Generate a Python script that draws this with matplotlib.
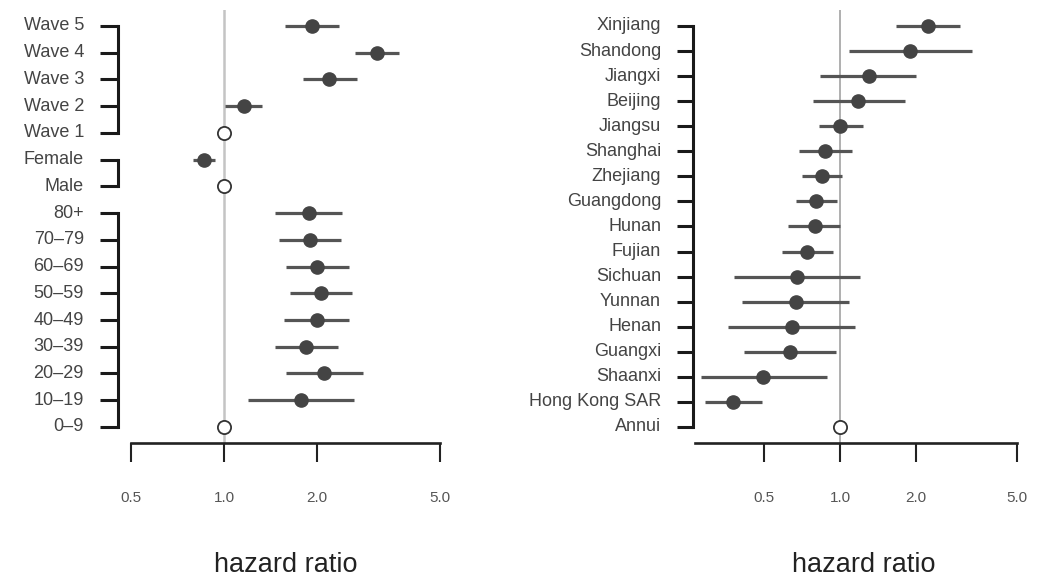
import numpy as np
import matplotlib
matplotlib.use("Agg")
import matplotlib.pyplot as plt
import matplotlib.transforms as mtransforms

plt.rcParams['font.family'] = ['Liberation Sans', 'DejaVu Sans']

# ---------------- data ----------------
left_labels = ["Wave 5", "Wave 4", "Wave 3", "Wave 2", "Wave 1",
               "Female", "Male",
               "80+", "70\u201379", "60\u201369", "50\u201359", "40\u201349",
               "30\u201339", "20\u201329", "10\u201319", "0\u20139"]
left_est = [1.92, 3.12, 2.19, 1.16, 1.0, 0.862, 1.0,
            1.88, 1.90, 2.00, 2.06, 2.00, 1.84, 2.11, 1.78, 1.0]
left_low = [1.58, 2.65, 1.80, 1.01, np.nan, 0.796, np.nan,
            1.46, 1.51, 1.59, 1.64, 1.56, 1.46, 1.59, 1.20, np.nan]
left_high = [2.36, 3.68, 2.69, 1.33, np.nan, 0.935, np.nan,
             2.41, 2.39, 2.53, 2.59, 2.54, 2.33, 2.81, 2.63, np.nan]
left_ref = [False, False, False, False, True, False, True,
            False, False, False, False, False, False, False, False, True]
left_groups = [(0, 4), (5, 6), (7, 15)]

right_labels = ["Xinjiang", "Shandong", "Jiangxi", "Beijing", "Jiangsu",
                "Shanghai", "Zhejiang", "Guangdong", "Hunan", "Fujian",
                "Sichuan", "Yunnan", "Henan", "Guangxi", "Shaanxi",
                "Hong Kong SAR", "Annui"]
right_est = [2.23, 1.89, 1.30, 1.18, 1.00, 0.875, 0.845, 0.806, 0.793,
             0.739, 0.676, 0.668, 0.647, 0.635, 0.497, 0.377, 1.0]
right_low = [1.66, 1.08, 0.832, 0.783, 0.827, 0.690, 0.705, 0.668, 0.621,
             0.588, 0.382, 0.408, 0.362, 0.418, 0.281, 0.292, np.nan]
right_high = [2.99, 3.31, 2.00, 1.80, 1.23, 1.11, 1.02, 0.969, 1.00,
              0.933, 1.20, 1.08, 1.15, 0.963, 0.886, 0.489, np.nan]
right_ref = [False] * 16 + [True]
right_groups = [(0, 16)]

xticks = [0.5, 1.0, 2.0, 5.0]
xticklabels = ["0.5", "1.0", "2.0", "5.0"]

# ---------------- figure ----------------
W, H = 1048, 577
fig = plt.figure(figsize=(W / 100, H / 100), dpi=100)


def px_ax(x0, x1, ytop, ybot):
    return fig.add_axes([x0 / W, 1 - ybot / H, (x1 - x0) / W, (ybot - ytop) / H])


def panel(ax, labels, est, low, high, ref, groups, xlim, ylim,
          vline_color, vline_lw, spine_x, tick_x0, label_x, xlabel_x):
    n = len(labels)
    y = np.arange(n)
    ax.set_xscale('log')
    ax.set_xlim(*xlim)
    ax.set_ylim(*ylim)
    for s in ['top', 'right', 'left']:
        ax.spines[s].set_visible(False)
    ax.spines['bottom'].set_linewidth(1.9)
    ax.spines['bottom'].set_color('#222222')
    ax.set_yticks([])
    ax.minorticks_off()
    ax.set_xticks(xticks)
    ax.set_xticklabels(xticklabels)
    ax.tick_params(axis='x', which='major', direction='out', length=13.5,
                   width=1.5, color='#222222', pad=21, labelsize=11,
                   labelcolor='#555555')
    ax.tick_params(axis='x', which='minor', length=0)

    ax.axvline(1.0, color=vline_color, lw=vline_lw, zorder=1)

    est = np.array(est)
    low = np.array(low)
    high = np.array(high)
    ref = np.array(ref)
    m = ~np.isnan(low)
    ax.hlines(y[m], low[m], high[m], color='#555555', lw=2.3, zorder=2)
    ax.plot(est[~ref], y[~ref], 'o', ms=9.5, mfc='#444444', mec='#444444',
            zorder=3, clip_on=False)
    ax.plot(est[ref], y[ref], 'o', ms=9.5, mfc='white', mec='#333333',
            mew=1.3, zorder=3, clip_on=False)

    trans = mtransforms.blended_transform_factory(ax.transAxes, ax.transData)
    for g0, g1 in groups:
        ax.plot([spine_x, spine_x], [g0, g1], color='#1a1a1a', lw=2.2,
                transform=trans, clip_on=False, solid_capstyle='projecting')
        for yi in range(g0, g1 + 1):
            ax.plot([tick_x0, spine_x], [yi, yi], color='#1a1a1a', lw=2.2,
                    transform=trans, clip_on=False, solid_capstyle='butt')
    for yi, lab in zip(y, labels):
        ax.text(label_x, yi, lab, transform=trans, ha='right', va='center',
                fontsize=13, color='#444444')

    ax.text(xlabel_x, -0.282, "hazard ratio", transform=ax.transAxes,
            ha='center', va='center', fontsize=19.5, color='#222222')


# left panel
axL = px_ax(131, 440, 10, 443)
rowL = 26.73
panel(axL, left_labels, left_est, left_low, left_high, left_ref, left_groups,
      xlim=(0.5, 5.0), ylim=((443 - 26) / rowL, (10 - 26) / rowL),
      vline_color='#c4c4c4', vline_lw=1.8,
      spine_x=(118 - 131) / 309, tick_x0=(100 - 131) / 309,
      label_x=(84 - 131) / 309, xlabel_x=0.5)

# right panel
axR = px_ax(695, 1017, 10, 443)
rowR = 25.06
panel(axR, right_labels, right_est, right_low, right_high, right_ref, right_groups,
      xlim=(0.267, 5.0), ylim=((443 - 26) / rowR, (10 - 26) / rowR),
      vline_color='#9a9a9a', vline_lw=1.1,
      spine_x=(693 - 695) / 322, tick_x0=(677 - 695) / 322,
      label_x=(661 - 695) / 322, xlabel_x=0.525)

fig.savefig("out.png", dpi=100)
